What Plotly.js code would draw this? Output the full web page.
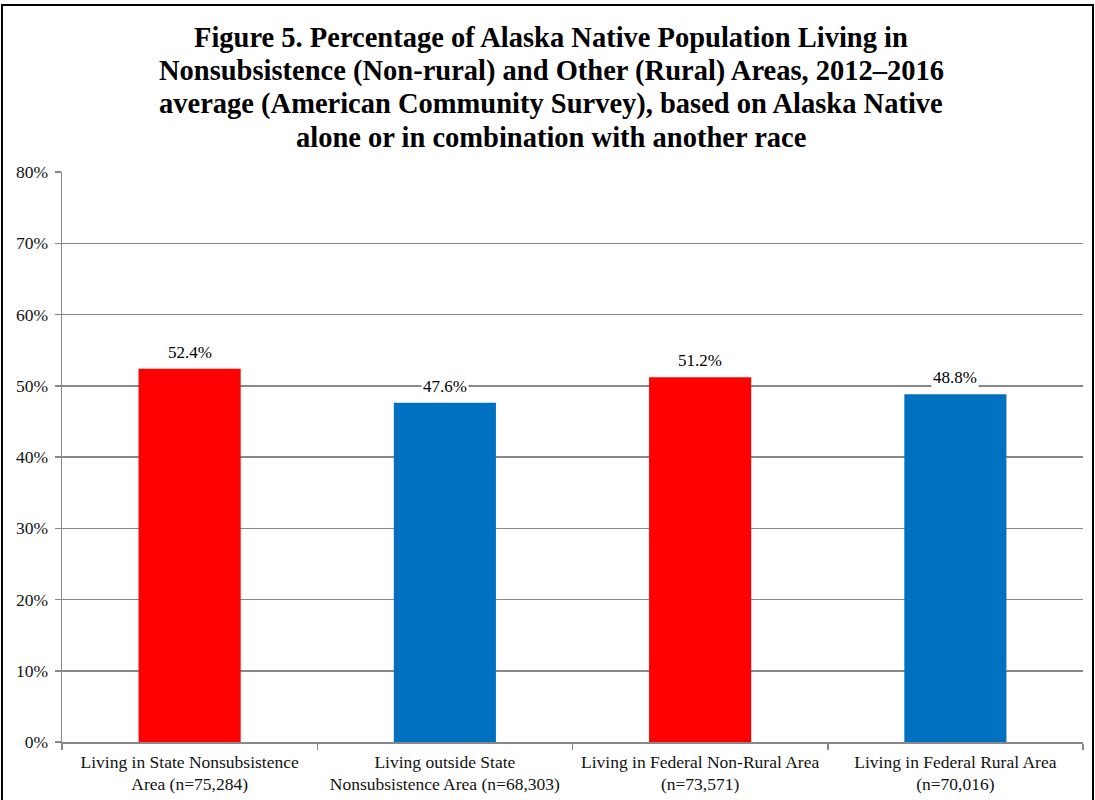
<!DOCTYPE html>
<html>
<head>
<meta charset="utf-8">
<script src="https://cdn.plot.ly/plotly-3.0.1.min.js"></script>
<style>
  html, body { margin: 0; padding: 0; background: #fff; }
  #chart { width: 1095px; height: 800px; }
</style>
</head>
<body>
<div id="chart"></div>
<script>
// Area categories (axis labels) and the share of the Alaska Native population in each
const categories = [
  "Living in State Nonsubsistence<br>Area (n=75,284)",
  "Living outside State<br>Nonsubsistence Area (n=68,303)",
  "Living in Federal Non-Rural Area<br>(n=73,571)",
  "Living in Federal Rural Area<br>(n=70,016)"
];
const percentages = [52.4, 47.6, 51.2, 48.8];
const barColors = ["#FF0000", "#0070C0", "#FF0000", "#0070C0"];

// Heading, one entry per line
const titleLines = [
  "Figure 5. Percentage of Alaska Native Population Living in",
  "Nonsubsistence (Non-rural) and Other (Rural) Areas, 2012–2016",
  "average (American Community Survey), based on Alaska Native",
  "alone or in combination with another race"
];

const gridGray = "#888888";
const serif = "Liberation Serif";

const trace = {
  type: "bar",
  x: categories,
  y: percentages,
  marker: { color: barColors, line: { width: 0 } },
  hoverinfo: "skip"
};

// Value labels sit just above each bar on a white box so gridlines don't cross them
const valueLabels = categories.map((c, i) => ({
  x: c,
  y: percentages[i],
  xref: "x",
  yref: "y",
  text: percentages[i].toFixed(1) + "%",
  showarrow: false,
  yanchor: "bottom",
  yshift: 5,
  bgcolor: "#ffffff",
  borderpad: 1,
  font: { family: serif, size: 17, color: "#000000" }
}));

// Heading lines laid out with a tighter leading than Plotly's default <br> spacing
const titleTop = 1.2351, titleStep = 0.0579;
const headingLines = titleLines.map((t, i) => ({
  text: t,
  xref: "paper",
  yref: "paper",
  x: 0.479,
  y: titleTop - i * titleStep,
  xanchor: "center",
  yanchor: "middle",
  showarrow: false,
  font: { family: serif, size: 28.5, color: "#000000", weight: "bold" }
}));

const layout = {
  width: 1095,
  height: 800,
  margin: { l: 62, r: 12, t: 172, b: 58, pad: 0 },
  paper_bgcolor: "#ffffff",
  plot_bgcolor: "#ffffff",
  showlegend: false,
  bargap: 0.6,
  font: { family: serif, color: "#000000" },
  xaxis: {
    type: "category",
    showline: true,
    linecolor: gridGray,
    linewidth: 1.5,
    ticks: "outside",
    tickson: "boundaries",
    ticklen: 6,
    tickcolor: gridGray,
    tickwidth: 1.5,
    ticklabelstandoff: 3,
    showgrid: false,
    tickfont: { family: serif, size: 17.5, color: "#111111" },
    fixedrange: true
  },
  yaxis: {
    range: [0, 80],
    dtick: 10,
    ticksuffix: "%",
    showline: true,
    linecolor: gridGray,
    linewidth: 1.5,
    ticks: "outside",
    ticklen: 6,
    tickcolor: gridGray,
    tickwidth: 1.5,
    ticklabelstandoff: 3,
    showgrid: true,
    gridcolor: gridGray,
    gridwidth: 1.5,
    zeroline: false,
    tickfont: { family: serif, size: 17.5, color: "#111111" },
    fixedrange: true
  },
  annotations: headingLines.concat(valueLabels),
  shapes: [{
    // outer frame around the whole figure
    type: "rect",
    xref: "paper", yref: "paper",
    x0: -0.0588, x1: 1.0098,
    y0: -0.112, y1: 1.293,
    line: { color: "#000000", width: 2 },
    fillcolor: "rgba(0,0,0,0)",
    layer: "above"
  }]
};

Plotly.newPlot("chart", [trace], layout, { displayModeBar: false, staticPlot: true });
</script>
</body>
</html>
